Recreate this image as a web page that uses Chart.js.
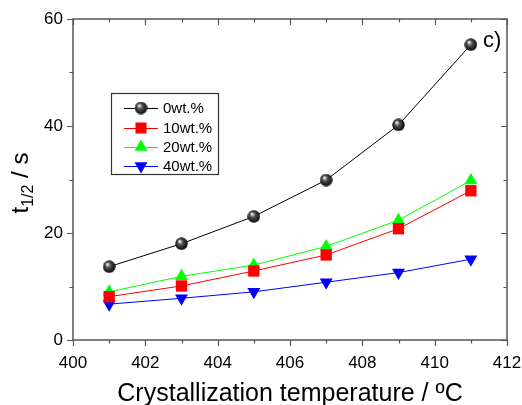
<!DOCTYPE html>
<html>
<head>
<meta charset="UTF-8" />
<style>
  html, body { margin: 0; padding: 0; background: #fff; }
  #wrap { width: 522px; height: 405px; }
</style>
</head>
<body>
<div id="wrap"><canvas id="chart" width="522" height="405"></canvas></div>
<script src="https://cdn.jsdelivr.net/npm/chart.js@4/dist/chart.umd.min.js"></script>
<script>
// data
const temps = [401, 403, 405, 407, 409, 411];
const t0wt = [13.7, 18.0, 23.1, 29.9, 40.2, 55.2];
const t10wt = [8.1, 10.1, 12.9, 15.9, 20.8, 27.9];
const t20wt = [9.0, 11.9, 14.0, 17.5, 22.4, 29.8];
const t40wt = [6.7, 7.8, 9.0, 10.8, 12.6, 15.1];
const seriesNames = ['0wt.%', '10wt.%', '20wt.%', '40wt.%'];
const xTicks = [400, 402, 404, 406, 408, 410, 412];
const yTicks = [0, 20, 40, 60];

const FONT = '"Liberation Sans", Arial, sans-serif';
const FRAME = '#555';

// shaded black sphere marker
function makeSphere(d) {
  const c = document.createElement('canvas');
  c.width = d; c.height = d;
  const g = c.getContext('2d');
  const r = d / 2;
  const grad = g.createRadialGradient(r * 0.7, r * 0.6, 0.5, r, r, r);
  grad.addColorStop(0, '#f4f4f4');
  grad.addColorStop(0.35, '#555');
  grad.addColorStop(1, '#000');
  g.fillStyle = grad;
  g.beginPath();
  g.arc(r, r, r - 0.3, 0, Math.PI * 2);
  g.fill();
  return c;
}
const sphere = makeSphere(13);

function pts(ys) {
  return temps.map((x, i) => ({ x: x, y: ys[i] }));
}

const datasets = [
  { label: seriesNames[0], data: pts(t0wt), borderColor: '#000', pointStyle: sphere, pointRadius: 7 },
  { label: seriesNames[1], data: pts(t10wt), borderColor: '#ff0000', backgroundColor: '#ff0000', pointStyle: 'rect', pointRadius: 8 },
  { label: seriesNames[2], data: pts(t20wt), borderColor: '#00ff00', backgroundColor: '#00ff00', pointStyle: 'triangle', pointRadius: 7.5 },
  { label: seriesNames[3], data: pts(t40wt), borderColor: '#0000ff', backgroundColor: '#0000ff', pointStyle: 'triangle', pointRotation: 180, pointRadius: 7.5 }
].map(d => Object.assign({ borderWidth: 1, pointBorderWidth: 0, tension: 0 }, d));

// frame, ticks, legend and labels
const decor = {
  id: 'decor',
  afterDraw(chart) {
    const ctx = chart.ctx;
    const a = chart.chartArea;
    const xs = chart.scales.x, ys = chart.scales.y;
    ctx.save();
    ctx.strokeStyle = FRAME;
    ctx.lineWidth = 1.5;
    ctx.strokeRect(a.left, a.top, a.right - a.left, a.bottom - a.top);
    ctx.lineWidth = 1.2;
    ctx.beginPath();
    for (let v = 400; v <= 412; v += 1) {
      const px = Math.round(xs.getPixelForValue(v)) + 0.5;
      const len = v % 2 === 0 ? 6 : 3.5;
      ctx.moveTo(px, a.bottom); ctx.lineTo(px, a.bottom + len);
      ctx.moveTo(px, a.top); ctx.lineTo(px, a.top + len);
    }
    for (let v = 0; v <= 60; v += 10) {
      const py = Math.round(ys.getPixelForValue(v)) + 0.5;
      const len = v % 20 === 0 ? 6 : 3.5;
      ctx.moveTo(a.left, py); ctx.lineTo(a.left - len, py);
      ctx.moveTo(a.right, py); ctx.lineTo(a.right - len, py);
    }
    ctx.stroke();

    // legend box
    ctx.lineWidth = 1.2;
    ctx.strokeStyle = '#333';
    ctx.strokeRect(111.5, 93.5, 107, 81);
    const rows = [108, 128, 147, 166];
    ctx.font = '15px ' + FONT;
    ctx.textBaseline = 'middle';
    ctx.textAlign = 'left';
    datasets.forEach((d, i) => {
      const y = rows[i];
      ctx.strokeStyle = d.borderColor;
      ctx.lineWidth = 1;
      ctx.beginPath();
      ctx.moveTo(124, y + 0.5); ctx.lineTo(158, y + 0.5);
      ctx.stroke();
      const cx = 141;
      ctx.fillStyle = d.backgroundColor || '#000';
      if (i === 0) {
        ctx.drawImage(sphere, cx - 6.5, y - 6.5);
      } else if (i === 1) {
        ctx.fillRect(cx - 5.5, y - 5.5, 11, 11);
      } else {
        const r = 7.5, s = i === 2 ? -1 : 1;
        ctx.beginPath();
        ctx.moveTo(cx, y + s * r);
        ctx.lineTo(cx - r * 0.866, y - s * r * 0.5);
        ctx.lineTo(cx + r * 0.866, y - s * r * 0.5);
        ctx.closePath();
        ctx.fill();
      }
      ctx.fillStyle = '#000';
      ctx.fillText(d.label, 163, y + 1);
    });

    // panel label
    ctx.font = '22px ' + FONT;
    ctx.fillText('c)', 483, 41);

    // y axis title with subscript
    ctx.translate(20, 183);
    ctx.rotate(-Math.PI / 2);
    const big = '24px ' + FONT, small = '16px ' + FONT;
    ctx.font = big; const w1 = ctx.measureText('t').width;
    ctx.font = small; const w2 = ctx.measureText('1/2').width;
    ctx.font = big; const w3 = ctx.measureText(' / s').width;
    let x0 = -(w1 + w2 + w3) / 2;
    ctx.textBaseline = 'alphabetic';
    ctx.font = big; ctx.fillText('t', x0, 8);
    ctx.font = small; ctx.fillText('1/2', x0 + w1, 13);
    ctx.font = big; ctx.fillText(' / s', x0 + w1 + w2, 8);
    ctx.restore();
  }
};

new Chart(document.getElementById('chart'), {
  type: 'line',
  data: { datasets: datasets },
  options: {
    responsive: false,
    animation: false,
    layout: { padding: { left: 0, top: 19, right: 15, bottom: 0 } },
    plugins: { legend: { display: false }, tooltip: { enabled: false } },
    scales: {
      x: {
        type: 'linear', min: 400, max: 412,
        grid: { display: false, drawTicks: false },
        border: { display: false },
        afterBuildTicks: s => { s.ticks = xTicks.map(v => ({ value: v })); },
        ticks: { color: '#000', font: { family: FONT, size: 17 }, padding: 13, maxRotation: 0 },
        title: { display: true, text: 'Crystallization temperature / ºC', color: '#000', font: { family: FONT, size: 25 }, padding: { top: 4, bottom: -4 } },
        afterFit: s => { s.height = 65; s.paddingLeft = 0; s.paddingRight = 0; }
      },
      y: {
        type: 'linear', min: 0, max: 60,
        grid: { display: false, drawTicks: false },
        border: { display: false },
        afterBuildTicks: s => { s.ticks = yTicks.map(v => ({ value: v })); },
        ticks: { color: '#000', font: { family: FONT, size: 17 }, padding: 10 },
        afterFit: s => { s.width = 73; s.paddingTop = 0; s.paddingBottom = 0; }
      }
    }
  },
  plugins: [decor]
});
</script>
</body>
</html>
